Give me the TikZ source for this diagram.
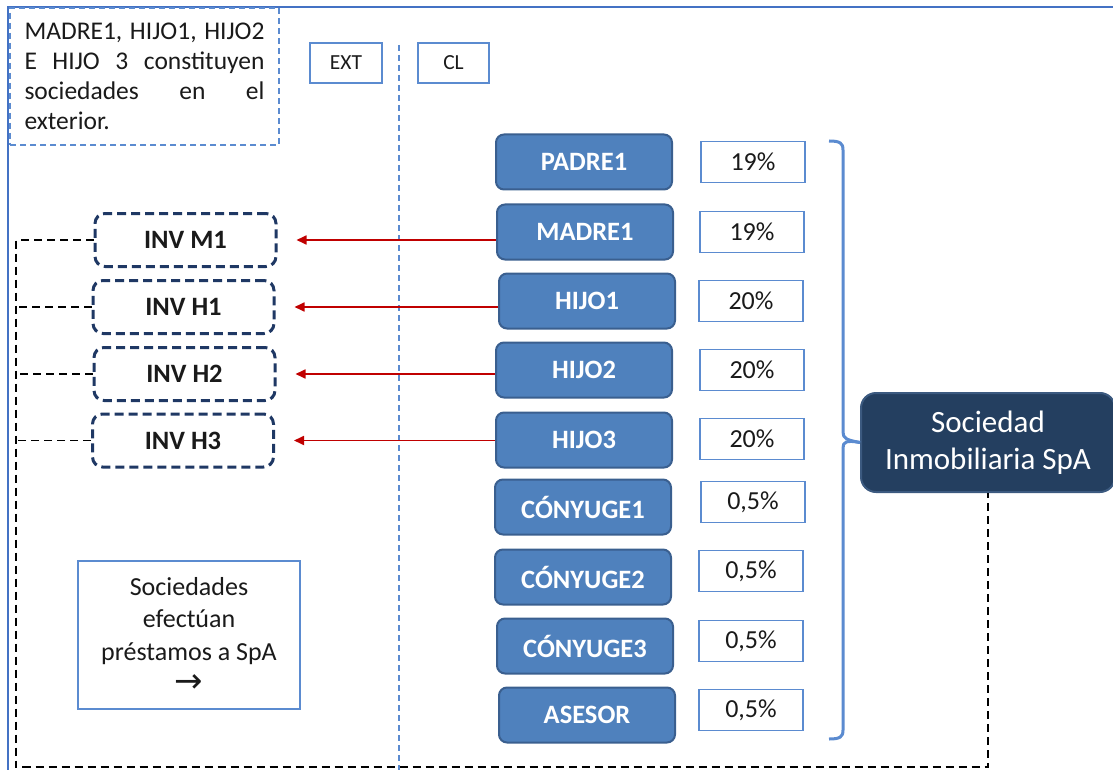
\documentclass[tikz,border=0pt]{standalone}
\usepackage{fontspec}
\setmainfont{Carlito}
\newfontfamily\symfont{DejaVu Sans}
\usetikzlibrary{arrows.meta}
\definecolor{frameblue}{HTML}{4472C4}
\definecolor{boxfill}{HTML}{4F81BD}
\definecolor{boxedge}{HTML}{3A5F8F}
\definecolor{thinblue}{HTML}{5B8BD0}
\definecolor{navyfill}{HTML}{243F60}
\definecolor{navyedge}{HTML}{3C5A80}
\definecolor{invedge}{HTML}{1F3864}
\definecolor{arrowred}{HTML}{C00000}
\definecolor{ink}{HTML}{1A1A1A}
\tikzset{
  person/.style={rectangle, rounded corners=8pt, fill=boxfill, draw=boxedge, line width=2pt,
    minimum width=176pt, minimum height=55pt, inner sep=0pt, text=white,
    font=\fontsize{26.5}{30}\selectfont\bfseries},
  pct/.style={rectangle, draw=thinblue, line width=1.4pt, fill=white,
    minimum width=104pt, minimum height=41pt, inner sep=0pt, text=ink,
    font=\fontsize{26}{30}\selectfont},
  invbox/.style={rectangle, rounded corners=10pt, draw=invedge, line width=3pt,
    dash pattern=on 9pt off 5pt, fill=white, minimum width=181pt, minimum height=53pt,
    inner sep=0pt, text=ink, font=\fontsize{26.5}{30}\selectfont\bfseries},
  tagbox/.style={rectangle, draw=thinblue, line width=1.4pt, minimum width=72pt,
    minimum height=40pt, inner sep=0pt, text=ink, font=\fontsize{21.5}{26}\selectfont},
  bluedash/.style={draw=thinblue, line width=1.6pt, dash pattern=on 6pt off 4pt},
  blackdash/.style={draw=black, line width=1.5pt, dash pattern=on 8pt off 5pt},
  redarrow/.style={draw=arrowred, line width=1.7pt, -{Triangle[length=10pt,width=9pt]},
    shorten >=19pt},
  bracket/.style={draw=thinblue, line width=3pt}
}
\begin{document}
\begin{tikzpicture}[x=1pt,y=-1pt]
\useasboundingbox (0,0) rectangle (1113,770);

% outer frame (top and left sides)
\draw[frameblue, line width=2pt] (1113,7) -- (8,7) -- (8,770);

% divider between EXT and CL
\coordinate (divtop) at (399,45);
\coordinate (divbot) at (399,770);
\draw[bluedash] (divtop) -- (divbot);

% note
\node[bluedash, rectangle, minimum width=269pt, minimum height=137pt, inner sep=0pt,
      text width=240pt, align=justify, text=ink,
      font=\fontsize{25.5}{30}\selectfont] (note) at (144.5,76.5)
  {MADRE1, HIJO1, HIJO2\linebreak E HIJO 3 constituyen\linebreak sociedades en el\linebreak exterior.};

% region tags
\node[tagbox] (ext) at (346,63) {EXT};
\node[tagbox, minimum width=71pt] (cl) at (453.5,63) {CL};

% shareholders
\node[person] (padre) at (584,162) {PADRE1};
\node[person] (madre) at (585,232) {MADRE1};
\node[person] (hijo1) at (587,301) {HIJO1};
\node[person] (hijo2) at (584,370) {HIJO2};
\node[person] (hijo3) at (584,440) {HIJO3};
\node[person] (cony1) at (583,507) {CÓNYUGE1};
\node[person] (cony2) at (583,577) {CÓNYUGE2};
\node[person] (cony3) at (585,646) {CÓNYUGE3};
\node[person] (asesor) at (587,715) {ASESOR};

% shares
\node[pct] (p1) at (753,162) {19\%};
\node[pct] (p2) at (752,232) {19\%};
\node[pct] (p3) at (751,301) {20\%};
\node[pct] (p4) at (752,370) {20\%};
\node[pct] (p5) at (752,439) {20\%};
\node[pct] (p6) at (753,502) {0,5\%};
\node[pct] (p7) at (751,571) {0,5\%};
\node[pct] (p8) at (751,641) {0,5\%};
\node[pct] (p9) at (751,710) {0,5\%};

% company
\node[rectangle, rounded corners=15pt, fill=navyfill, draw=navyedge, line width=2pt,
      minimum width=254pt, minimum height=99pt, inner sep=0pt, text=white, align=center,
      font=\fontsize{31}{37}\selectfont] (spa) at (988,442.5)
  {Sociedad\\Inmobiliaria SpA};

% bracket grouping the shares
\coordinate (brtop) at (829,141);
\coordinate (brbot) at (829,739);
\draw[bracket] (brtop) .. controls (840,141) and (843,143) .. (843,150) -- (843,432)
  .. controls (843,438) and (846,440) .. (spa.west);
\draw[bracket] (spa.west) .. controls (846,440) and (843,442) .. (843,448) -- (843,730)
  .. controls (843,737) and (840,739) .. (brbot);

% foreign companies
\node[invbox] (invm1) at (185.5,240) {INV M1};
\node[invbox] (invh1) at (183.5,307) {INV H1};
\node[invbox] (invh2) at (184.5,374) {INV H2};
\node[invbox] (invh3) at (183,440.5) {INV H3};

% each shareholder sets up a company abroad
\draw[redarrow] (madre.west |- invm1.east) -- (invm1.east);
\draw[redarrow] (hijo1.west |- invh1.east) -- (invh1.east);
\draw[redarrow] (hijo2.west |- invh2.east) -- (invh2.east);
\draw[redarrow] (hijo3.west |- invh3.east) -- (invh3.east);

% loans box
\node[rectangle, draw=thinblue, line width=1.4pt, minimum width=222pt, minimum height=148pt,
      inner sep=0pt, align=center, text=ink, font=\fontsize{26}{32.5}\selectfont] (loans) at (189,635)
  {Sociedades\\efectúan\\préstamos a SpA\\{\symfont\fontsize{34}{32.5}\selectfont →}};

% loan flow from the foreign companies to the SpA
\coordinate (bl) at (16,767);
\draw[blackdash] (invm1.west) -- (bl |- invm1.west) -- (bl) -- (spa.south |- bl) -- (spa.south);
\draw[blackdash] (invh1.west) -- (bl |- invh1.west);
\draw[blackdash] (invh2.west) -- (bl |- invh2.west);
\draw[blackdash] (invh3.west) -- (bl |- invh3.west);
\end{tikzpicture}
\end{document}
